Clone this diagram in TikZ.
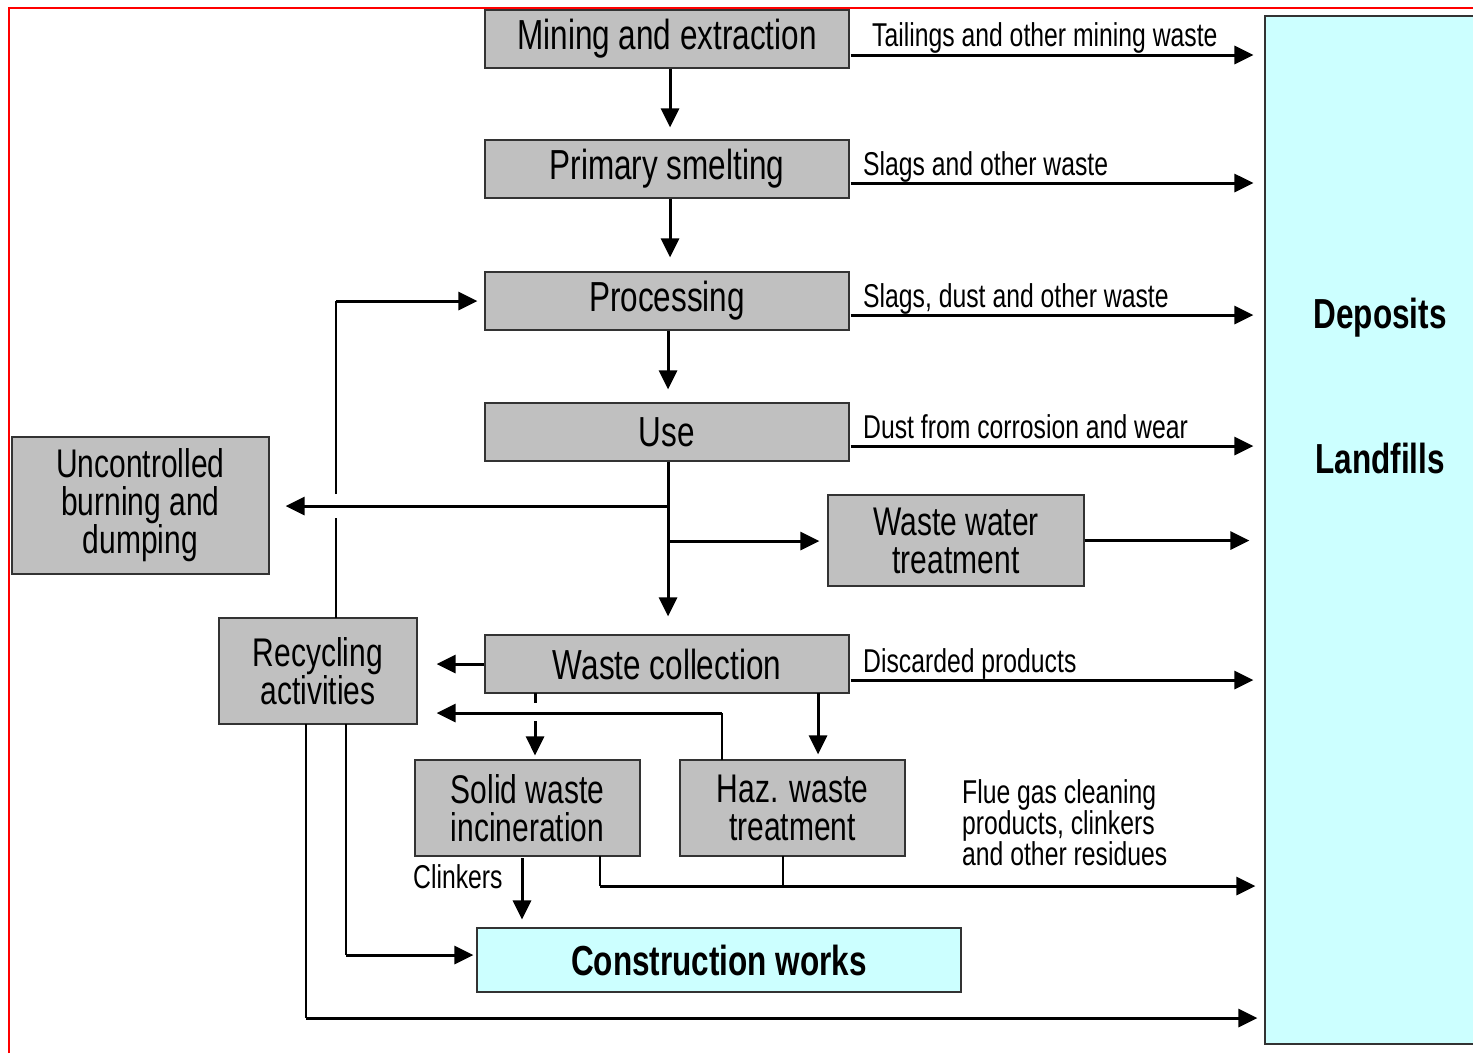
\documentclass[tikz,border=0pt]{standalone}
\usepackage{fontspec}
\setmainfont[FakeStretch=0.75]{Liberation Sans}
\usetikzlibrary{arrows.meta}
\definecolor{boxgray}{HTML}{C0C0C0}
\definecolor{palecyan}{HTML}{CCFFFF}
\definecolor{edge}{HTML}{333333}
% fixed line pitch inside multi-line nodes
\setlength{\lineskiplimit}{-100pt}
\begin{document}
\begin{tikzpicture}[x=1pt,y=-1pt,
  box/.style={draw=edge, line width=1.2pt, fill=boxgray, inner sep=0pt,
              align=center, font=\fontsize{42}{36}\selectfont},
  twoline/.style={box, font=\fontsize{40}{38}\selectfont},
  lbl/.style={font=\fontsize{33}{27}\selectfont, inner sep=0pt, anchor=base west},
  arr/.style={line width=3pt, -{Triangle[length=19pt,width=18pt]}},
  wire/.style={line width=2pt},
  bigword/.style={font=\fontsize{42}{34}\selectfont\bfseries, inner sep=0pt}]
\useasboundingbox (0,0) rectangle (1473,1053);
\fill[white] (0,0) rectangle (1473,1053);

% frame
\draw[red, line width=1.5pt] (9,1053) -- (9,8);
\draw[red, line width=2pt] (8,8) -- (1473,8);

% deposits column
\node[draw=edge, line width=1.2pt, fill=palecyan, minimum width=220pt,
      minimum height=1028pt, inner sep=0pt] (dep) at (1375,530) {};
\node[bigword] (depw) at (1380,318) {Deposits};
\node[bigword] (landw) at (1380,458) {Landfills};

% process chain
\node[box, minimum width=364pt, minimum height=58pt] (mine)  at (667,39)  {Mining and extraction};
\node[box, minimum width=364pt, minimum height=58pt] (smelt) at (667,169) {Primary smelting};
\node[box, minimum width=364pt, minimum height=58pt] (proc)  at (667,301) {Processing};
\node[box, minimum width=364pt, minimum height=58pt] (use)   at (667,432) {Use};
\node[twoline, minimum width=256pt, minimum height=91pt] (wwt)   at (956,540.5) {Waste water\\treatment};
\node[twoline, minimum width=257pt, minimum height=137pt] (unc)  at (140.5,505.5) {Uncontrolled\\burning and\\dumping};
\node[twoline, minimum width=198pt, minimum height=106pt] (rec)  at (318,671) {Recycling\\activities};
\node[box, minimum width=364pt, minimum height=58pt] (coll)  at (667,664) {Waste collection};
\node[twoline, minimum width=225pt, minimum height=96pt] (swi)   at (527.5,808) {Solid waste\\incineration};
\node[twoline, minimum width=225pt, minimum height=96pt] (haz)   at (792.5,808) {Haz. waste\\treatment};
\node[box, fill=palecyan, font=\fontsize{42}{34}\selectfont\bfseries,
      minimum width=484pt, minimum height=64pt] (cons) at (719,960) {Construction works};

% main flow downwards
\draw[arr, shorten >=12pt] ([xshift=3pt]mine.south)  -- ([xshift=3pt]smelt.north);
\draw[arr, shorten >=14pt] ([xshift=3pt]smelt.south) -- ([xshift=3pt]proc.north);
\draw[arr, shorten >=13pt] ([xshift=1pt]proc.south)  -- ([xshift=1pt]use.north);
\draw[arr, shorten >=18pt] ([xshift=1pt]use.south)   -- ([xshift=1pt]coll.north);

% branches from the use stage
\coordinate (jl) at (668,506);
\coordinate (jr) at (668,541);
\draw[arr, shorten >=16pt] (jl) -- (jl -| unc.east);
\draw[arr, shorten >=8pt]  (jr) -- (jr -| wwt.west);

% waste streams to deposits
\foreach \n/\d in {mine/16, smelt/14, proc/14, use/14, coll/16} {
  \path ([yshift=-\d pt, xshift=1pt]\n.east) coordinate (\n-out);
  \draw[arr, shorten >=11pt] (\n-out) -- (\n-out -| dep.west);
}
\draw[arr, shorten >=15pt] (wwt.east) -- (wwt.east -| dep.west);

\node[lbl] (l1) at (872,46)  {Tailings and other mining waste};
\node[lbl] (l2) at (863,175) {Slags and other waste};
\node[lbl] (l3) at (863,307) {Slags, dust and other waste};
\node[lbl] (l4) at (863,438) {Dust from corrosion and wear};
\node[lbl] (l5) at (863,672) {Discarded products};

% recycling loop back to processing
\coordinate (r0) at (336,618);
\coordinate (ga) at (336,518);
\coordinate (gb) at (336,494);
\coordinate (rp) at (336,301);
\draw[wire] (r0) -- (ga);
\draw[wire] (gb) -- (rp);
\draw[arr, shorten >=7pt] (rp) -- (proc.west);

% waste collection outputs
\draw[arr, shorten >=19pt] (coll.west) -- (coll.west -| rec.east);
\coordinate (h0) at (722,760);
\coordinate (h1) at (722,713);
\draw[wire] (h0) -- (h1);
\draw[arr, shorten >=19pt] (h1) -- (h1 -| rec.east);

\coordinate (c0) at (535,693);
\coordinate (c1) at (535,703);
\coordinate (c2) at (535,721);
\draw[line width=3pt] (c0) -- (c1);
\draw[arr, shorten >=4pt] (c2) -- (c2 |- swi.north);
\coordinate (c3) at (818,693);
\draw[arr, shorten >=5pt] (c3) -- (c3 |- haz.north);

% clinkers to construction
\coordinate (k0) at (522,858);
\draw[arr, shorten >=8pt] (k0) -- (k0 |- cons.north);
\node[lbl] (lk) at (413,888) {Clinkers};

% residues to deposits
\coordinate (s0) at (600,856);
\coordinate (s1) at (600,886);
\coordinate (z0) at (783,856);
\coordinate (z1) at (783,886);
\draw[wire] (s0) -- (s1);
\draw[wire] (z0) -- (z1);
\draw[arr, shorten >=9pt] (s1) -- (s1 -| dep.west);
\node[font=\fontsize{33}{31}\selectfont, inner sep=0pt, align=left, anchor=north west]
  (lf) at (962,779) {Flue gas cleaning\\products, clinkers\\and other residues};

% recycling outputs
\coordinate (q0) at (346,724);
\coordinate (q1) at (346,955);
\draw[wire] (q0) -- (q1);
\draw[arr, shorten >=3pt] (q1) -- (q1 -| cons.west);
\coordinate (p0) at (306,724);
\coordinate (p1) at (306,1018);
\draw[wire] (p0) -- (p1);
\draw[arr, shorten >=7pt] (p1) -- (p1 -| dep.west);
\end{tikzpicture}
\end{document}
